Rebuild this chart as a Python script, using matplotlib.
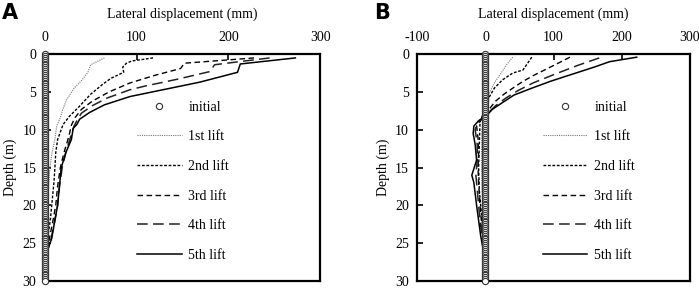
import numpy as np
import matplotlib.pyplot as plt

plt.rcParams['font.family'] = ['Liberation Serif', 'DejaVu Serif']
plt.rcParams['axes.unicode_minus'] = False

# initial profile (m)
init_depth = np.arange(0, 30.01, 0.25)
init_disp = np.zeros_like(init_depth)

# Panel A: lateral displacement (mm) vs depth (m)
a1_d = [0.5, 1.4, 2.4, 3.5, 4.5, 6.0, 7.2, 8.4, 9.5, 11.3, 13, 15.2, 19.5, 23, 26, 30]
a1_x = [65, 50, 47, 40, 32, 24, 20, 17, 13, 11, 8, 5.5, 3, 1.5, 0, 0]
a2_d = [0.5, 0.9, 1.2, 1.7, 2.4, 3.2, 4.0, 5.3, 7.0, 8.2, 9.3, 10.3, 11.3, 13, 15.2, 17, 19.5, 22, 24, 26, 27.5, 30]
a2_x = [118, 95, 89, 85, 86, 72, 63, 50, 37, 27, 20, 17, 14, 12, 11, 10, 8, 6, 3.5, 1, 0, 0]
a3_d = [0.5, 1.2, 1.9, 2.8, 3.8, 5.0, 6.2, 7.3, 8.4, 9.4, 11, 13, 15, 17.5, 20, 22, 24.4, 26.5, 27.5, 30]
a3_x = [228, 152, 148, 120, 93, 70, 52, 40, 33, 29, 26, 21, 17, 14, 12, 9, 5, 1, 0, 0]
a4_d = [0.5, 1.4, 2.3, 3.3, 4.2, 4.7, 5.8, 6.8, 7.8, 8.8, 9.5, 11, 13, 15, 17.5, 20, 22, 24.4, 26.3, 27.5, 30]
a4_x = [245, 185, 180, 145, 110, 93, 68, 52, 40, 35, 32, 28, 23, 19, 16, 14, 11, 7, 2, 0, 0]
a5_d = [0.5, 1.3, 2.4, 3.7, 4.8, 5.6, 6.7, 7.7, 8.6, 9.3, 9.8, 11.3, 13, 15, 17.5, 20, 22, 24.4, 26.3, 27.5, 30]
a5_x = [273, 213, 210, 169, 125, 93, 65, 49, 38, 35, 31, 29, 23, 18, 16, 14, 11, 7.5, 2, 0, 0]

# Panel B
b1_d = [0.4, 1.4, 2.5, 3.8, 5.1, 6.0, 8, 10, 14, 18, 22, 26, 28, 30]
b1_x = [40, 31, 23, 13, 6, 0, -2, -5, -6, -5, -3, -1, 0, 0]
b2_d = [0.4, 2.1, 2.5, 3.4, 4.5, 5.6, 7, 9, 12, 15, 18, 21, 24, 27, 30]
b2_x = [68, 55, 40, 25, 13, 6, 0, -8, -9, -10, -9, -6, -3, 0, 0]
b3_d = [0.4, 1.5, 2.75, 3.6, 4.5, 5.3, 6.2, 7.2, 8.0, 8.5, 9.5, 11, 13, 15, 17, 20, 23, 26, 28, 30]
b3_x = [124, 100, 72, 55, 40, 27, 15, 6, 0, -5, -13, -11, -10, -11, -10, -8, -5, -2, 0, 0]
b4_d = [0.5, 1.5, 2.75, 3.8, 4.8, 5.8, 6.8, 7.6, 8.2, 9, 10, 12, 14, 16, 18, 20, 22, 24, 26, 28, 30]
b4_x = [167, 135, 99, 70, 48, 30, 15, 6, 0, -12, -15, -12, -12, -14, -12, -10, -8, -5, -2, 0, 0]
b5_d = [0.4, 1.0, 1.7, 2.75, 3.6, 4.5, 5.4, 6.4, 7.3, 8.0, 8.8, 9.5, 10.5, 12, 14, 16, 17, 20, 22, 24, 26, 28, 30]
b5_x = [222, 182, 160, 124, 95, 68, 42, 25, 10, 3, -10, -17, -18, -15, -13, -20, -17, -13, -10, -7, -3, 0, 0]

labels = ['1st lift', '2nd lift', '3rd lift', '4th lift', '5th lift']
styles = [dict(color='#777777', lw=0.8, ls=(0, (1, 1))),
          dict(color='black', lw=1.0, ls=(0, (2, 1.2))),
          dict(color='black', lw=1.0, ls=(0, (4, 2.5))),
          dict(color='#222222', lw=1.1, ls=(0, (7, 3.5))),
          dict(color='black', lw=1.1, ls='-')]

fig = plt.figure(figsize=(6.99, 2.88), dpi=100)
axA = fig.add_axes([0.064, 0.024, 0.394, 0.788])
axB = fig.add_axes([0.597, 0.024, 0.390, 0.788])

panels = [
    (axA, [(a1_x, a1_d), (a2_x, a2_d), (a3_x, a3_d), (a4_x, a4_d), (a5_x, a5_d)],
     (0, 300), [0, 100, 200, 300], 'A', 0.29),
    (axB, [(b1_x, b1_d), (b2_x, b2_d), (b3_x, b3_d), (b4_x, b4_d), (b5_x, b5_d)],
     (-100, 300), [-100, 0, 100, 200, 300], 'B', 0.415),
]

for ax, series, xlim, xticks, tag, legx in panels:
    ax.plot(init_disp, init_depth, 'o', ms=4.5, mfc='white', mec='#333333',
            mew=0.8, ls='none', label='initial', clip_on=False, zorder=5)
    for (x, d), lab, st in zip(series, labels, styles):
        ax.plot(x, d, label=lab, **st)
    ax.set_xlim(*xlim)
    ax.set_ylim(30, 0)
    ax.set_xticks(xticks)
    ax.set_yticks([0, 5, 10, 15, 20, 25, 30])
    ax.xaxis.tick_top()
    ax.xaxis.set_label_position('top')
    ax.set_xlabel('Lateral displacement (mm)', fontsize=10, labelpad=10)
    ax.set_ylabel('Depth (m)', fontsize=10, labelpad=4)
    ax.tick_params(direction='in', length=4, width=1.2, labelsize=10, pad=7)
    ax.tick_params(axis='y', pad=6)
    for sp in ax.spines.values():
        sp.set_linewidth(1.6)
    ax.legend(loc='center left', bbox_to_anchor=(legx, 0.44), frameon=False,
              fontsize=10, handlelength=3.2, labelspacing=1.2, handletextpad=0.5)
    fig.text(ax.get_position().x0 - 0.062, 0.99, tag, fontsize=15,
             fontweight='bold', family='DejaVu Sans', va='top', ha='left')

fig.savefig('out.png', dpi=100)
